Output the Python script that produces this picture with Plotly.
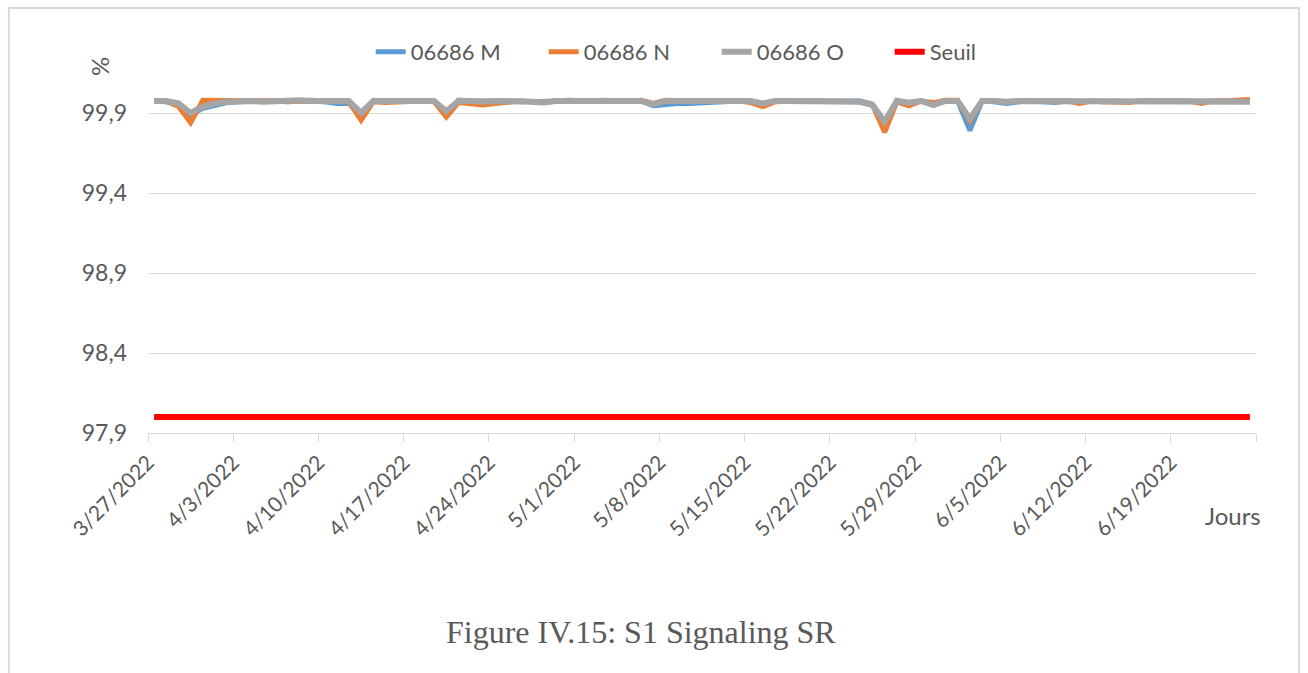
import pandas as pd
import plotly.graph_objects as go

# Daily samples, 27 March to 25 June 2022
dates = pd.date_range("2022-03-27", periods=91, freq="D")

m_values = [
    99.975, 99.970, 99.950, 99.885, 99.930, 99.950, 99.965, 99.970, 99.975, 99.975,
    99.975, 99.970, 99.975, 99.975, 99.970, 99.960, 99.960, 99.880, 99.975, 99.975,
    99.975, 99.975, 99.975, 99.975, 99.890, 99.980, 99.975, 99.975, 99.980, 99.975,
    99.975, 99.970, 99.970, 99.975, 99.980, 99.975, 99.975, 99.975, 99.975, 99.975,
    99.975, 99.945, 99.955, 99.960, 99.960, 99.965, 99.970, 99.975, 99.975, 99.970,
    99.960, 99.975, 99.975, 99.975, 99.975, 99.975, 99.975, 99.975, 99.975, 99.955,
    99.830, 99.980, 99.965, 99.975, 99.955, 99.975, 99.975, 99.790, 99.975, 99.970,
    99.960, 99.970, 99.975, 99.970, 99.965, 99.975, 99.970, 99.975, 99.970, 99.975,
    99.970, 99.975, 99.975, 99.975, 99.970, 99.975, 99.975, 99.975, 99.975, 99.975,
    99.975,
]

n_values = [
    99.975, 99.975, 99.940, 99.840, 99.980, 99.980, 99.980, 99.975, 99.980, 99.975,
    99.975, 99.970, 99.975, 99.980, 99.975, 99.975, 99.970, 99.855, 99.970, 99.965,
    99.970, 99.975, 99.975, 99.970, 99.875, 99.965, 99.960, 99.950, 99.960, 99.970,
    99.975, 99.970, 99.965, 99.975, 99.975, 99.970, 99.975, 99.980, 99.975, 99.975,
    99.980, 99.960, 99.980, 99.975, 99.975, 99.975, 99.975, 99.975, 99.975, 99.965,
    99.940, 99.970, 99.975, 99.975, 99.975, 99.975, 99.975, 99.975, 99.970, 99.950,
    99.780, 99.970, 99.945, 99.975, 99.965, 99.980, 99.980, 99.850, 99.975, 99.975,
    99.970, 99.975, 99.975, 99.970, 99.975, 99.975, 99.960, 99.975, 99.970, 99.965,
    99.965, 99.975, 99.975, 99.975, 99.970, 99.975, 99.960, 99.975, 99.975, 99.980,
    99.985,
]

o_values = [
    99.975, 99.975, 99.960, 99.900, 99.940, 99.960, 99.970, 99.975, 99.975, 99.970,
    99.975, 99.975, 99.980, 99.975, 99.975, 99.975, 99.975, 99.900, 99.975, 99.975,
    99.975, 99.975, 99.975, 99.975, 99.910, 99.975, 99.975, 99.970, 99.975, 99.975,
    99.975, 99.970, 99.965, 99.975, 99.975, 99.975, 99.975, 99.975, 99.975, 99.975,
    99.975, 99.955, 99.975, 99.975, 99.975, 99.975, 99.975, 99.975, 99.975, 99.975,
    99.960, 99.975, 99.975, 99.975, 99.975, 99.975, 99.975, 99.975, 99.970, 99.950,
    99.845, 99.975, 99.965, 99.975, 99.950, 99.975, 99.975, 99.865, 99.975, 99.975,
    99.970, 99.975, 99.975, 99.970, 99.975, 99.975, 99.975, 99.975, 99.975, 99.975,
    99.975, 99.975, 99.975, 99.975, 99.975, 99.975, 99.975, 99.975, 99.975, 99.975,
    99.970,
]

SEUIL = 98.0
seuil_values = [SEUIL] * len(dates)

series_names = ["06686 M", "06686 N", "06686 O", "Seuil"]
series_colors = ["#5B9BD5", "#ED7D31", "#A5A5A5", "#FF0000"]
series_widths = [5, 5, 6, 6]
series_values = [m_values, n_values, o_values, seuil_values]

y_ticks = [97.9, 98.4, 98.9, 99.4, 99.9]

# Weekly ticks; the closing tick at 26 June carries no label
x_tick_dates = pd.date_range("2022-03-27", "2022-06-26", freq="7D")
x_tick_text = [f"{d.month}/{d.day}/{d.year}" for d in x_tick_dates[:-1]] + [""]

TEXT = "#595959"
GRID = "#D9D9D9"
FONT = "Lato, Open Sans, sans-serif"

fig = go.Figure()
for name, color, width, vals in zip(series_names, series_colors, series_widths, series_values):
    fig.add_trace(go.Scatter(
        x=dates, y=vals, name=name, mode="lines",
        line=dict(color=color, width=width),
        xperiod=86400000, xperiodalignment="middle",
    ))

fig.update_layout(
    width=1308, height=673, autosize=False,
    margin=dict(l=148, r=52, t=97, b=240),
    paper_bgcolor="white", plot_bgcolor="white",
    separators=", ",
    font=dict(family=FONT, color=TEXT, size=20),
    showlegend=True,
    legend=dict(
        orientation="h", x=0.201, xanchor="left", y=1.134, yanchor="middle",
        font=dict(size=22, color=TEXT), bgcolor="rgba(0,0,0,0)",
        itemwidth=30, entrywidth=128, entrywidthmode="pixels",
    ),
    xaxis=dict(
        type="date",
        range=["2022-03-27", "2022-06-26"],
        tickvals=x_tick_dates, ticktext=x_tick_text, tickangle=-45,
        tickfont=dict(size=21, color=TEXT),
        ticks="outside", ticklen=8, tickcolor=GRID, tickwidth=1,
        showline=True, linecolor=GRID, linewidth=1,
        showgrid=False, zeroline=False,
    ),
    yaxis=dict(
        range=[97.9, 100.0],
        tickvals=y_ticks, tickformat=".1f",
        tickfont=dict(size=23, color=TEXT),
        showgrid=True, gridcolor=GRID, gridwidth=1,
        showline=False, zeroline=False, ticks="",
        ticklabelstandoff=20,
    ),
    shapes=[dict(
        type="rect", xref="paper", yref="paper",
        x0=-0.1255, x1=1.0388, y0=-0.75, y1=1.2649,
        line=dict(color=GRID, width=2), fillcolor="rgba(0,0,0,0)", layer="below",
    )],
    annotations=[
        dict(text="%", xref="paper", yref="paper", x=-0.0442, y=1.089,
             xanchor="center", yanchor="middle",
             showarrow=False, textangle=-90, font=dict(size=24, color=TEXT)),
        dict(text="Jours", xref="paper", yref="paper", x=0.979, y=-0.247,
             xanchor="center", yanchor="middle",
             showarrow=False, font=dict(size=24, color=TEXT)),
        dict(text="Figure IV.15: S1 Signaling SR", xref="paper", yref="paper",
             x=0.445, y=-0.592, xanchor="center", yanchor="middle", showarrow=False,
             font=dict(family="Liberation Serif, Times New Roman, serif", size=32, color=TEXT)),
    ],
)

fig.write_html("out.html")
